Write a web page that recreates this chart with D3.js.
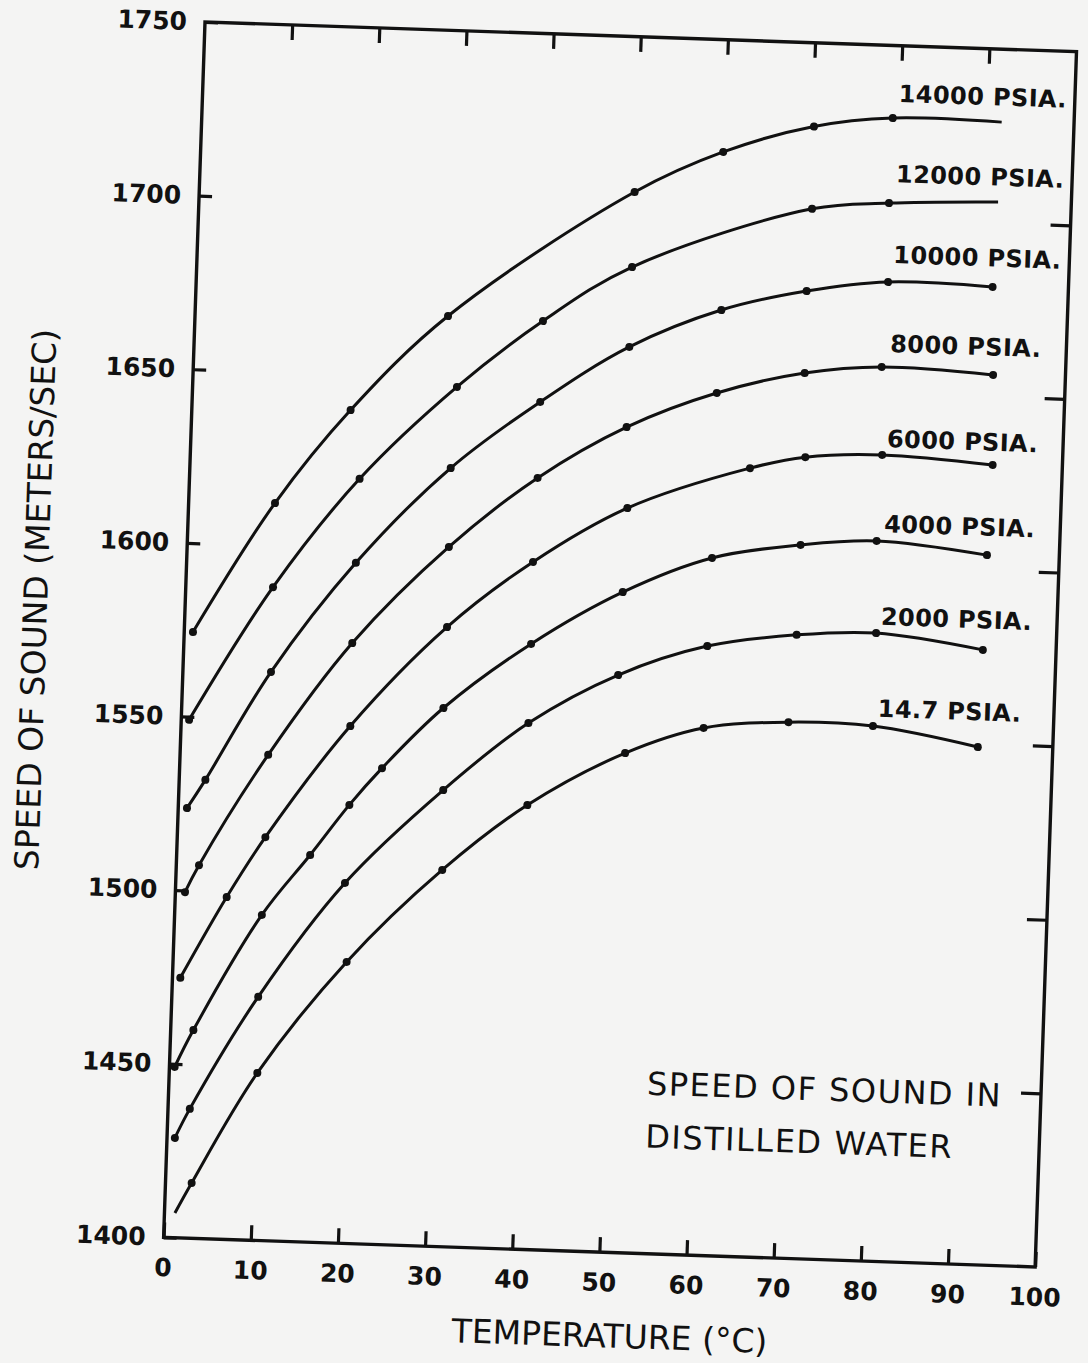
<!DOCTYPE html>
<html>
<head>
<meta charset="utf-8">
<script src="https://cdn.jsdelivr.net/npm/d3@7"></script>
<style>
  body { margin: 0; background: #f4f4f3; }
  svg { display: block; }
  text { font-family: 'DejaVu Sans', sans-serif; fill: #111; }
</style>
</head>
<body>
<svg id="chart"></svg>
<script>
// [temperature °C, speed m/s]
const psi14000 = [[1.0, 1574.4], [9.9, 1612.3], [18.2, 1639.8], [29.0, 1667.8], [49.9, 1705.3], [59.9, 1717.7], [70.2, 1725.9], [79.2, 1729.1], [91.7, 1729.0]]
const psi12000 = [[0.9, 1549.1], [10.0, 1588.1], [19.5, 1620.1], [30.3, 1647.5], [39.9, 1667.3], [49.9, 1683.7], [70.3, 1702.2], [79.1, 1704.6], [91.6, 1706.0]]
const psi10000 = [[1.0, 1523.7], [3.0, 1532.0], [10.1, 1563.7], [19.4, 1595.9], [29.9, 1624.1], [39.9, 1644.0], [49.9, 1660.7], [60.3, 1672.2], [70.0, 1678.5], [79.3, 1681.9], [91.3, 1681.5]]
const psi8000 = [[1.1, 1499.5], [2.6, 1507.4], [10.1, 1539.8], [19.3, 1572.8], [30.0, 1601.4], [39.9, 1622.1], [49.9, 1637.6], [60.1, 1648.3], [70.1, 1654.9], [78.9, 1657.4], [91.7, 1656.2]]
const psi6000 = [[0.9, 1474.8], [5.9, 1498.5], [10.1, 1516.1], [19.4, 1548.9], [30.1, 1578.3], [39.7, 1597.9], [50.3, 1614.3], [64.2, 1627.0], [70.5, 1630.7], [79.3, 1632.1], [92.0, 1630.3]]
const psi4000 = [[0.6, 1449.1], [2.6, 1459.9], [10.0, 1493.7], [15.3, 1511.4], [19.6, 1526.2], [23.2, 1537.1], [30.0, 1555.0], [39.8, 1574.3], [50.1, 1590.1], [60.2, 1600.8], [70.3, 1605.4], [79.0, 1607.3], [91.7, 1604.3]]
const psi2000 = [[0.9, 1428.7], [2.5, 1437.2], [9.9, 1470.1], [19.4, 1503.7], [30.3, 1531.4], [39.8, 1551.5], [49.9, 1566.2], [60.0, 1575.4], [70.2, 1579.5], [79.3, 1580.8], [91.6, 1577.0]]
const psi14_7 = [[1.2, 1407.1], [3.0, 1415.9], [10.1, 1448.2], [19.9, 1481.0], [30.5, 1508.4], [40.0, 1527.9], [51.0, 1543.8], [59.9, 1551.8], [69.6, 1554.3], [79.3, 1554.0], [91.4, 1549.0]]

const seriesNames = ['14000 PSIA.', '12000 PSIA.', '10000 PSIA.', '8000 PSIA.', '6000 PSIA.', '4000 PSIA.', '2000 PSIA.', '14.7 PSIA.']
const seriesData = [psi14000, psi12000, psi10000, psi8000, psi6000, psi4000, psi2000, psi14_7]
// curve ends drawn without a dot
const bareEnds = ['0-8', '1-8', '7-0']

const labelTemp = 79.8
const labelSpeeds = [1733.8, 1710.7, 1687.4, 1661.8, 1634.4, 1609.9, 1583.2, 1556.7]

const xTicks = [0, 10, 20, 30, 40, 50, 60, 70, 80, 90, 100]
const yTicks = [1400, 1450, 1500, 1550, 1600, 1650, 1700, 1750]

const width = 1088
const height = 1363
// the scan is tilted a little, keep the whole sheet turned
const plot = { left: 205, top: 22, w: 872, h: 1216, tilt: 1.95 }

const svg = d3.select('#chart')
  .attr('width', width)
  .attr('height', height)

const g = svg.append('g')
  .attr('transform', `translate(${plot.left},${plot.top}) rotate(${plot.tilt})`)

const x = d3.scaleLinear().domain([0, 100]).range([0, plot.w])
const y = d3.scaleLinear().domain([1400, 1750]).range([plot.h, 0])

function styleAxis (sel, showText) {
  sel.select('.domain').remove()
  sel.selectAll('.tick line').attr('stroke', '#111').attr('stroke-width', 3.2)
  sel.selectAll('.tick text')
    .attr('fill', '#111')
    .attr('font-family', "'DejaVu Sans', sans-serif")
    .attr('font-size', 25)
    .attr('font-weight', 'bold')
    .style('display', showText ? null : 'none')
}

// bottom axis with labels
g.append('g')
  .attr('transform', `translate(0,${plot.h})`)
  .call(d3.axisBottom(x).tickValues(xTicks).tickSize(-15).tickPadding(21).tickFormat(d3.format('d')))
  .call(sel => styleAxis(sel, true))

// top ticks
g.append('g')
  .call(d3.axisTop(x).tickValues(xTicks.slice(1, -1)).tickSize(-15))
  .call(sel => styleAxis(sel, false))

// left axis with labels
g.append('g')
  .call(d3.axisLeft(y).tickValues(yTicks).tickSize(-13).tickPadding(18).tickFormat(d3.format('d')))
  .call(sel => styleAxis(sel, true))

// right ticks
g.append('g')
  .attr('transform', `translate(${plot.w},0)`)
  .call(d3.axisRight(y).tickValues(yTicks.slice(1, -1)).tickSize(-20))
  .call(sel => styleAxis(sel, false))

// frame
g.append('rect')
  .attr('x', 0)
  .attr('y', 0)
  .attr('width', plot.w)
  .attr('height', plot.h)
  .attr('fill', 'none')
  .attr('stroke', '#111')
  .attr('stroke-width', 3.4)

const line = d3.line()
  .x(d => x(d[0]))
  .y(d => y(d[1]))
  .curve(d3.curveCatmullRom.alpha(0.5))

const curves = g.selectAll('.curve').data(seriesData).enter()
  .append('g').attr('class', 'curve')

curves.append('path')
  .attr('d', d => line(d))
  .attr('fill', 'none')
  .attr('stroke', '#111')
  .attr('stroke-width', 3)

curves.each(function (pts, si) {
  d3.select(this).selectAll('circle')
    .data(pts.filter((p, pi) => !bareEnds.includes(si + '-' + pi)))
    .enter().append('circle')
    .attr('cx', d => x(d[0]))
    .attr('cy', d => y(d[1]))
    .attr('r', 4)
    .attr('fill', '#111')
})

// pressure labels
g.selectAll('.psi-label').data(seriesNames).enter()
  .append('text')
  .attr('class', 'psi-label')
  .attr('x', x(labelTemp))
  .attr('y', (d, i) => y(labelSpeeds[i]))
  .attr('font-size', 24)
  .attr('font-weight', 'bold')
  .attr('letter-spacing', 0.4)
  .text(d => d)

// axis titles
g.append('text')
  .attr('x', 449)
  .attr('y', 1311)
  .attr('text-anchor', 'middle')
  .attr('font-size', 33)
  .text('TEMPERATURE (°C)')

g.append('text')
  .attr('transform', 'translate(-138,583) rotate(-90)')
  .attr('text-anchor', 'middle')
  .attr('font-size', 33)
  .text('SPEED OF SOUND (METERS/SEC)')

// note in the lower right
const note = ['SPEED OF SOUND IN', 'DISTILLED WATER']
g.selectAll('.note').data(note).enter()
  .append('text')
  .attr('class', 'note')
  .attr('x', 478)
  .attr('y', (d, i) => 1057 + i * 53)
  .attr('font-size', 32)
  .attr('letter-spacing', 1.5)
  .text(d => d)
</script>
</body>
</html>
